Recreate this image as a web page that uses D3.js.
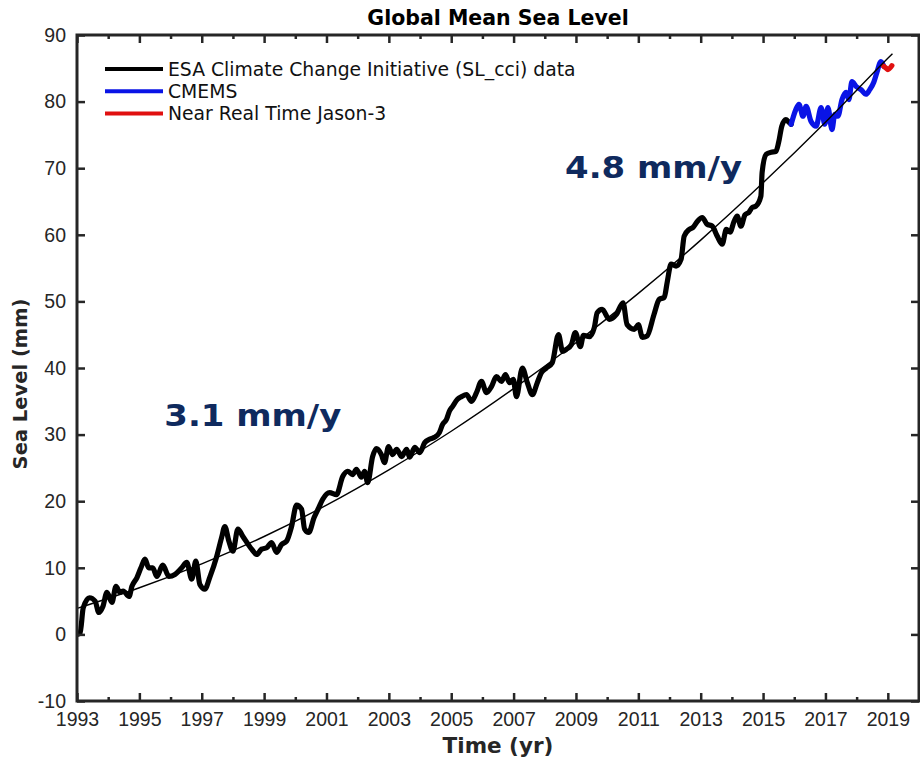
<!DOCTYPE html>
<html>
<head>
<meta charset="utf-8">
<script src="https://cdn.jsdelivr.net/npm/d3@7"></script>
<style>
  body { margin: 0; background: #fff; }
  svg { font-family: "DejaVu Sans", sans-serif; }
</style>
</head>
<body>
<div id="chart"></div>
<script>
// ESA SL_cci series (year, mm)
var sclYears = [1993.0, 1993.1, 1993.2, 1993.4, 1993.58, 1993.7, 1993.83, 1993.96, 1994.12, 1994.25,
  1994.38, 1994.48, 1994.67, 1994.76, 1994.92, 1995.05, 1995.18, 1995.3, 1995.43, 1995.56,
  1995.75, 1995.95, 1996.14, 1996.36, 1996.52, 1996.68, 1996.81, 1996.94, 1997.1, 1997.26,
  1997.48, 1997.64, 1997.74, 1997.87, 1998.0, 1998.16, 1998.32, 1998.6, 1998.76, 1998.92,
  1999.08, 1999.24, 1999.4, 1999.56, 1999.72, 1999.88, 2000.04, 2000.2, 2000.3, 2000.43,
  2000.6, 2000.75, 2000.88, 2001.1, 2001.32, 2001.52, 2001.68, 2001.84, 2001.96, 2002.12,
  2002.22, 2002.32, 2002.48, 2002.6, 2002.76, 2002.86, 2002.99, 2003.12, 2003.25, 2003.41,
  2003.57, 2003.67, 2003.83, 2003.99, 2004.15, 2004.3, 2004.46, 2004.62, 2004.72, 2004.85,
  2004.94, 2005.04, 2005.2, 2005.33, 2005.49, 2005.65, 2005.81, 2005.97, 2006.13, 2006.29,
  2006.45, 2006.61, 2006.74, 2006.87, 2006.99, 2007.09, 2007.28, 2007.44, 2007.6, 2007.76,
  2007.89, 2008.05, 2008.24, 2008.44, 2008.57, 2008.69, 2008.85, 2008.98, 2009.14, 2009.24,
  2009.43, 2009.59, 2009.68, 2009.84, 2010.07, 2010.29, 2010.51, 2010.64, 2010.87, 2011.0,
  2011.13, 2011.28, 2011.5, 2011.67, 2011.83, 2011.93, 2012.05, 2012.21, 2012.37, 2012.47,
  2012.63, 2012.75, 2012.89, 2013.05, 2013.2, 2013.37, 2013.53, 2013.69, 2013.82, 2013.94,
  2014.07, 2014.17, 2014.29, 2014.42, 2014.55, 2014.65, 2014.77, 2014.93, 2014.97, 2015.1,
  2015.26, 2015.41, 2015.5, 2015.6, 2015.73, 2015.83, 2015.9];
var sclValues = [0, 0.2, 4, 5.5, 5, 3.3, 4.2, 6.3, 4.8, 7.2,
  6.3, 6.5, 5.7, 7.2, 8.5, 10, 11.3, 10, 10, 8.7,
  10.4, 8.7, 9, 10, 10.8, 8.3, 11, 7.5, 6.8, 8.6,
  11.7, 14.6, 16.2, 14, 12.5, 15.8, 14.7, 12.8, 12, 12.8,
  13, 13.8, 12.3, 13.5, 14, 16.2, 19.4, 18.8, 15.8, 15.3,
  17.5, 19, 20.3, 21.3, 21, 23.7, 24.5, 24, 24.8, 23.6,
  24.5, 22.8, 26.7, 27.9, 27, 25.8, 28.2, 27, 27.8, 26.7,
  27.8, 26.6, 28.1, 27.3, 28.8, 29.3, 29.6, 30.3, 31.5, 32.3,
  33.5, 34.2, 35.3, 35.7, 36, 35, 36.3, 38, 36.3, 37.2,
  38.7, 38, 39, 37.8, 38.3, 35.7, 40, 37.8, 36, 37.8,
  39.3, 40, 40.8, 45, 42.5, 42.8, 43.5, 45.3, 43.2, 44.9,
  44.7, 46.1, 48.3, 48.8, 47.3, 48, 49.8, 46.5, 45.8, 46.5,
  44.6, 44.8, 48, 50.3, 50.6, 53, 55.6, 55.3, 56.3, 59.8,
  60.8, 61.1, 62, 62.6, 61.6, 61.3, 59.8, 58.6, 60.8, 60.4,
  62, 62.8, 61.3, 63, 63.4, 64.1, 64.3, 65.8, 69.4, 72.1,
  72.4, 72.5, 73.9, 76.3, 77.3, 76.9, 76.6];

// CMEMS series
var cmemsYears = [2015.9, 2016.05, 2016.15, 2016.28, 2016.38, 2016.54, 2016.7, 2016.86, 2016.98, 2017.08,
  2017.21, 2017.3, 2017.4, 2017.53, 2017.66, 2017.75, 2017.85, 2017.98, 2018.14, 2018.3,
  2018.42, 2018.55, 2018.65, 2018.78, 2018.87];
var cmemsValues = [76.6, 78.8, 79.6, 77.8, 79.3, 77, 76.3, 79.1, 76.6, 79.1,
  75.8, 78.1, 77.8, 80.3, 81.4, 80.3, 83, 82.3, 81.8, 81.1,
  81.8, 82.9, 84.4, 86, 85.3];

// Near real time Jason-3
var nrtYears = [2018.87, 2018.95, 2019.0, 2019.13];
var nrtValues = [85.3, 85.0, 84.8, 85.4];

// fitted trend curve
var trendYears = [1993, 1995, 1997, 1999, 2001, 2003, 2005, 2007, 2009, 2011, 2013, 2015, 2017, 2019, 2019.15];
var trendValues = [3.9, 7.0, 10.6, 14.7, 19.4, 24.7, 30.5, 36.9, 43.8, 51.2, 59.2, 67.8, 76.9, 86.5, 87.2];

var seriesNames = ["ESA Climate Change Initiative (SL_cci) data", "CMEMS", "Near Real Time Jason-3"];
var seriesColors = ["#000000", "#0a14e6", "#e01010"];

var yTicks = [-10, 0, 10, 20, 30, 40, 50, 60, 70, 80, 90];
var xMajor = [1993, 1995, 1997, 1999, 2001, 2003, 2005, 2007, 2009, 2011, 2013, 2015, 2017, 2019];
var xMinor = [1994, 1996, 1998, 2000, 2002, 2004, 2006, 2008, 2010, 2012, 2014, 2016, 2018, 2020];

var rates = [{ text: "3.1 mm/y", year: 1995.8, value: 31.3 }, { text: "4.8 mm/y", year: 2008.65, value: 68.5 }];

var W = 920, H = 759,
    margin = {top: 35, right: 1, bottom: 58, left: 77},
    width = W - margin.left - margin.right,
    height = H - margin.top - margin.bottom,
    axisColor = "#262626";

var svg = d3.select("#chart").append("svg")
    .attr("width", W)
    .attr("height", H);

var g = svg.append("g")
    .attr("transform", "translate(" + margin.left + "," + margin.top + ")");

var x = d3.scaleLinear().domain([1993, 2020]).range([0, width]);
var y = d3.scaleLinear().domain([-10, 90]).range([height, 0]);

function zip(xs, ys) {
  return xs.map(function(d, i) { return [d, ys[i]]; });
}

var line = d3.line()
    .x(function(d) { return x(d[0]); })
    .y(function(d) { return y(d[1]); })
    .curve(d3.curveMonotoneX);

svg.append("clipPath").attr("id", "plotclip")
  .append("rect").attr("width", width).attr("height", height);

var plot = g.append("g").attr("clip-path", "url(#plotclip)");

// data lines
[zip(sclYears, sclValues), zip(cmemsYears, cmemsValues), zip(nrtYears, nrtValues)].forEach(function(s, i) {
  plot.append("path")
      .datum(s)
      .attr("fill", "none")
      .attr("stroke", seriesColors[i])
      .attr("stroke-width", 5.2)
      .attr("stroke-linejoin", "round")
      .attr("stroke-linecap", "round")
      .attr("d", line);
});

// trend
plot.append("path")
    .datum(zip(trendYears, trendValues))
    .attr("fill", "none")
    .attr("stroke", "#000")
    .attr("stroke-width", 1.4)
    .attr("d", line);

// axes, matlab style inward ticks
function styleAxis(sel) {
  sel.select(".domain").remove();
  sel.selectAll(".tick line").attr("stroke", axisColor).attr("stroke-width", 2.5);
  sel.selectAll(".tick text").attr("fill", axisColor).attr("font-size", "19.5px");
}
var plain = function(d) { return String(d); };

g.append("g")
    .attr("transform", "translate(0," + height + ")")
    .call(d3.axisBottom(x).tickValues(xMinor).tickSize(-4).tickFormat(""))
    .call(styleAxis);
g.append("g")
    .attr("transform", "translate(0," + height + ")")
    .call(d3.axisBottom(x).tickValues(xMajor).tickSizeInner(-8).tickPadding(11).tickFormat(plain))
    .call(styleAxis);
g.append("g")
    .call(d3.axisTop(x).tickValues(xMinor).tickSize(-4).tickFormat(""))
    .call(styleAxis);
g.append("g")
    .call(d3.axisTop(x).tickValues(xMajor).tickSize(-8).tickFormat(""))
    .call(styleAxis);
g.append("g")
    .call(d3.axisLeft(y).tickValues(yTicks).tickSizeInner(-8).tickPadding(11).tickFormat(plain))
    .call(styleAxis);
g.append("g")
    .attr("transform", "translate(" + width + ",0)")
    .call(d3.axisRight(y).tickValues(yTicks).tickSize(-8).tickFormat(""))
    .call(styleAxis);

g.append("rect")
    .attr("width", width)
    .attr("height", height)
    .attr("fill", "none")
    .attr("stroke", axisColor)
    .attr("stroke-width", 3);

// legend
var legend = g.append("g").attr("transform", "translate(28,34)");
seriesNames.forEach(function(name, i) {
  var row = legend.append("g").attr("transform", "translate(0," + (i * 22.3) + ")");
  row.append("line")
      .attr("x1", 0).attr("x2", 58)
      .attr("stroke", seriesColors[i])
      .attr("stroke-width", 4);
  row.append("text")
      .attr("x", 63)
      .attr("dy", "0.35em")
      .attr("font-size", "18.8px")
      .attr("fill", "#111")
      .text(name);
});

// rate annotations
g.selectAll(".rate")
  .data(rates)
  .enter().append("text")
    .attr("class", "rate")
    .attr("x", function(d) { return x(d.year); })
    .attr("y", function(d) { return y(d.value); })
    .attr("font-size", "30px")
    .attr("font-weight", "bold")
    .attr("fill", "#0f2a5e")
    .attr("textLength", 177)
    .attr("lengthAdjust", "spacingAndGlyphs")
    .text(function(d) { return d.text; });

// titles
svg.append("text")
    .attr("x", margin.left + width / 2)
    .attr("y", 25)
    .attr("text-anchor", "middle")
    .attr("font-size", "20.5px")
    .attr("font-weight", "bold")
    .attr("fill", "#000")
    .text("Global Mean Sea Level");

svg.append("text")
    .attr("x", margin.left + width / 2)
    .attr("y", 753)
    .attr("text-anchor", "middle")
    .attr("font-size", "21.5px")
    .attr("font-weight", "bold")
    .attr("fill", axisColor)
    .text("Time (yr)");

svg.append("text")
    .attr("transform", "translate(27," + (margin.top + height / 2 + 16) + ") rotate(-90)")
    .attr("text-anchor", "middle")
    .attr("font-size", "19.5px")
    .attr("font-weight", "bold")
    .attr("fill", axisColor)
    .text("Sea Level (mm)");
</script>
</body>
</html>
